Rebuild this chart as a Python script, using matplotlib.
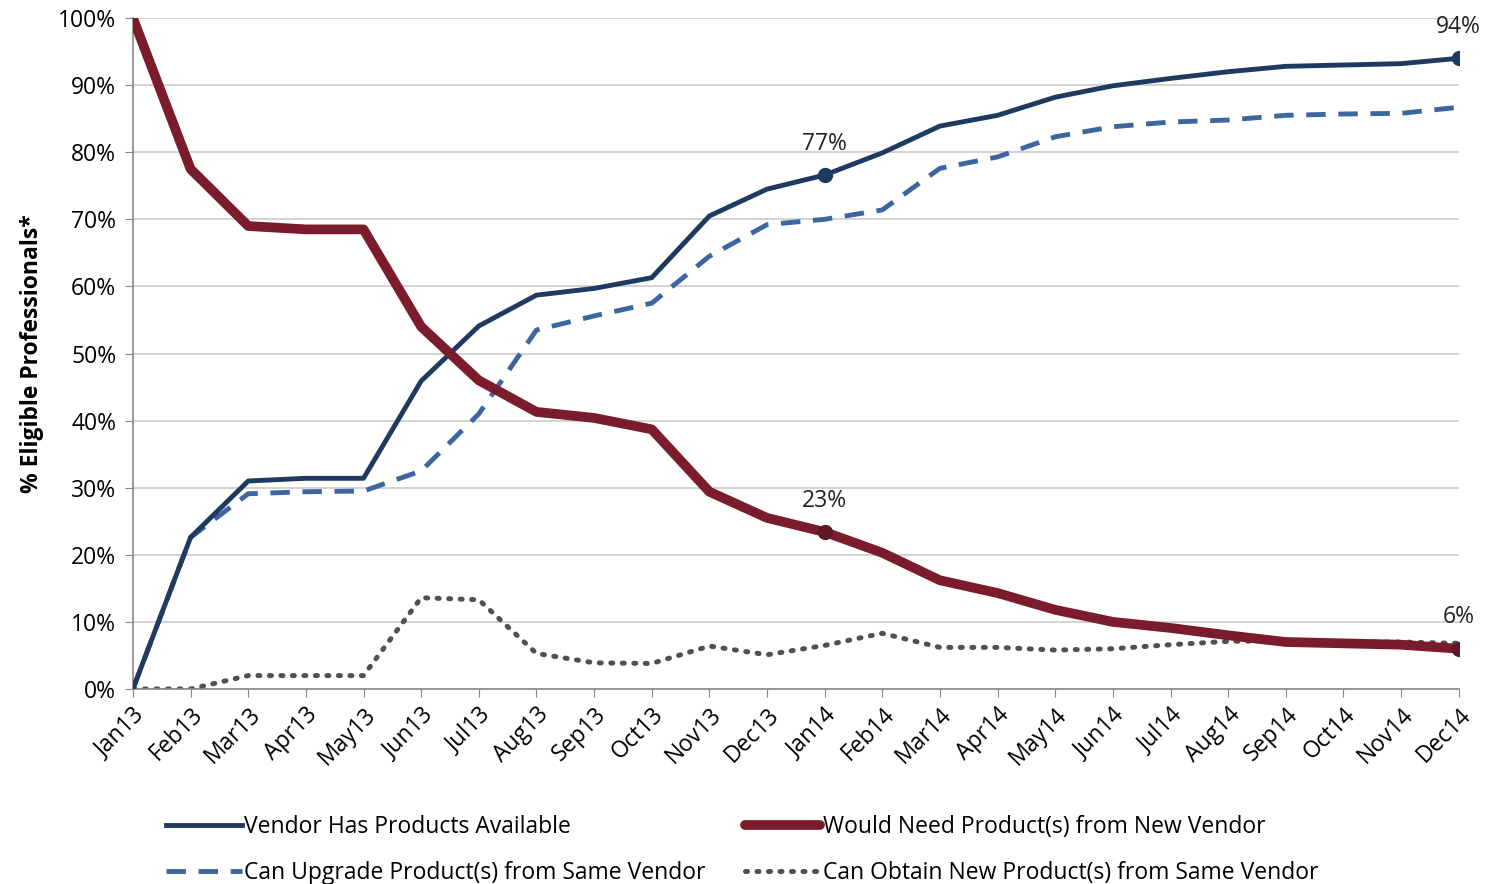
import numpy as np
import matplotlib.pyplot as plt
from matplotlib.ticker import PercentFormatter

plt.rcParams['font.family'] = ['Open Sans', 'DejaVu Sans']

months = ['Jan13', 'Feb13', 'Mar13', 'Apr13', 'May13', 'Jun13', 'Jul13', 'Aug13',
          'Sep13', 'Oct13', 'Nov13', 'Dec13', 'Jan14', 'Feb14', 'Mar14', 'Apr14',
          'May14', 'Jun14', 'Jul14', 'Aug14', 'Sep14', 'Oct14', 'Nov14', 'Dec14']

vendor_has = [0, 22.6, 31.0, 31.4, 31.4, 45.9, 54.1, 58.7, 59.7, 61.3, 70.5, 74.5,
              76.6, 79.9, 83.9, 85.5, 88.2, 89.9, 91.0, 92.0, 92.8, 93.0, 93.2, 94.0]
can_upgrade = [0, 22.6, 29.1, 29.4, 29.5, 32.5, 41.0, 53.5, 55.6, 57.5, 64.5, 69.2,
               70.0, 71.4, 77.6, 79.3, 82.3, 83.8, 84.5, 84.8, 85.5, 85.7, 85.8, 86.7]
need_new = [100, 77.5, 69.0, 68.5, 68.5, 54.0, 46.0, 41.3, 40.4, 38.7, 29.4, 25.5,
            23.4, 20.3, 16.2, 14.3, 11.8, 10.0, 9.1, 8.0, 7.0, 6.8, 6.6, 6.0]
can_obtain = [0, 0, 2.0, 2.0, 2.0, 13.6, 13.3, 5.3, 3.9, 3.8, 6.4, 5.1,
              6.5, 8.3, 6.2, 6.2, 5.8, 6.0, 6.6, 7.1, 7.2, 7.0, 7.0, 6.8]

navy = '#1f3a60'
blue = '#3b66a0'
maroon = '#7a1c2c'
grey = '#505050'
fs = 16.5

x = np.arange(len(months))

fig = plt.figure(figsize=(14.87, 8.84), dpi=100)
ax = fig.add_axes([0.0894, 0.2206, 0.8916, 0.759])

ax.plot(x, vendor_has, color=navy, lw=3.5, label='Vendor Has Products Available', zorder=4)
ax.plot(x, can_upgrade, color=blue, lw=3.5, ls=(0, (4, 2.6)), label='Can Upgrade Product(s) from Same Vendor', zorder=3)
ax.plot(x, need_new, color=maroon, lw=7, solid_capstyle='round', label='Would Need Product(s) from New Vendor', zorder=5)
ax.plot(x, can_obtain, color=grey, lw=3.6, ls=(0, (0.4, 1.9)), dash_capstyle='round',
        label='Can Obtain New Product(s) from Same Vendor', zorder=2)

# highlighted points
for i in (12, 23):
    ax.plot(x[i], vendor_has[i], 'o', color=navy, ms=10, zorder=6)
    ax.plot(x[i], need_new[i], 'o', color='#5a1a28', ms=10, zorder=6)
    ax.annotate(f'{vendor_has[i]:.0f}%', (x[i], vendor_has[i]), xytext=(0, 14),
                textcoords='offset points', ha='center', va='bottom', fontsize=fs, color='#222222')
    ax.annotate(f'{need_new[i]:.0f}%', (x[i], need_new[i]), xytext=(0, 14),
                textcoords='offset points', ha='center', va='bottom', fontsize=fs, color='#222222')

ax.set_xlim(0, len(months) - 1)
ax.set_ylim(0, 100)
ax.set_yticks(np.arange(0, 101, 10))
ax.yaxis.set_major_formatter(PercentFormatter(decimals=0))
ax.set_xticks(x)
ax.set_xticklabels(months, rotation=45, ha='right', rotation_mode='anchor', fontsize=fs)
ax.tick_params(axis='y', labelsize=fs, length=6, color='#888888', pad=6)
ax.tick_params(axis='x', length=6, color='#888888', pad=4)
ax.grid(axis='y', color='#cccccc', lw=1.2)
ax.set_axisbelow(True)
for s in ('top', 'right'):
    ax.spines[s].set_visible(False)
for s in ('left', 'bottom'):
    ax.spines[s].set_color('#888888')
    ax.spines[s].set_linewidth(1.2)

ax.set_ylabel('% Eligible Professionals*', fontsize=fs, fontweight='bold', labelpad=10)

handles, labels = ax.get_legend_handles_labels()
fig.legend(handles, labels, ncol=2,
           loc='lower left', bbox_to_anchor=(0.098, -0.025), frameon=False, fontsize=fs,
           handlelength=3.3, handletextpad=0.1, columnspacing=1.7, labelspacing=1.0)

fig.savefig('out.png', dpi=100)
